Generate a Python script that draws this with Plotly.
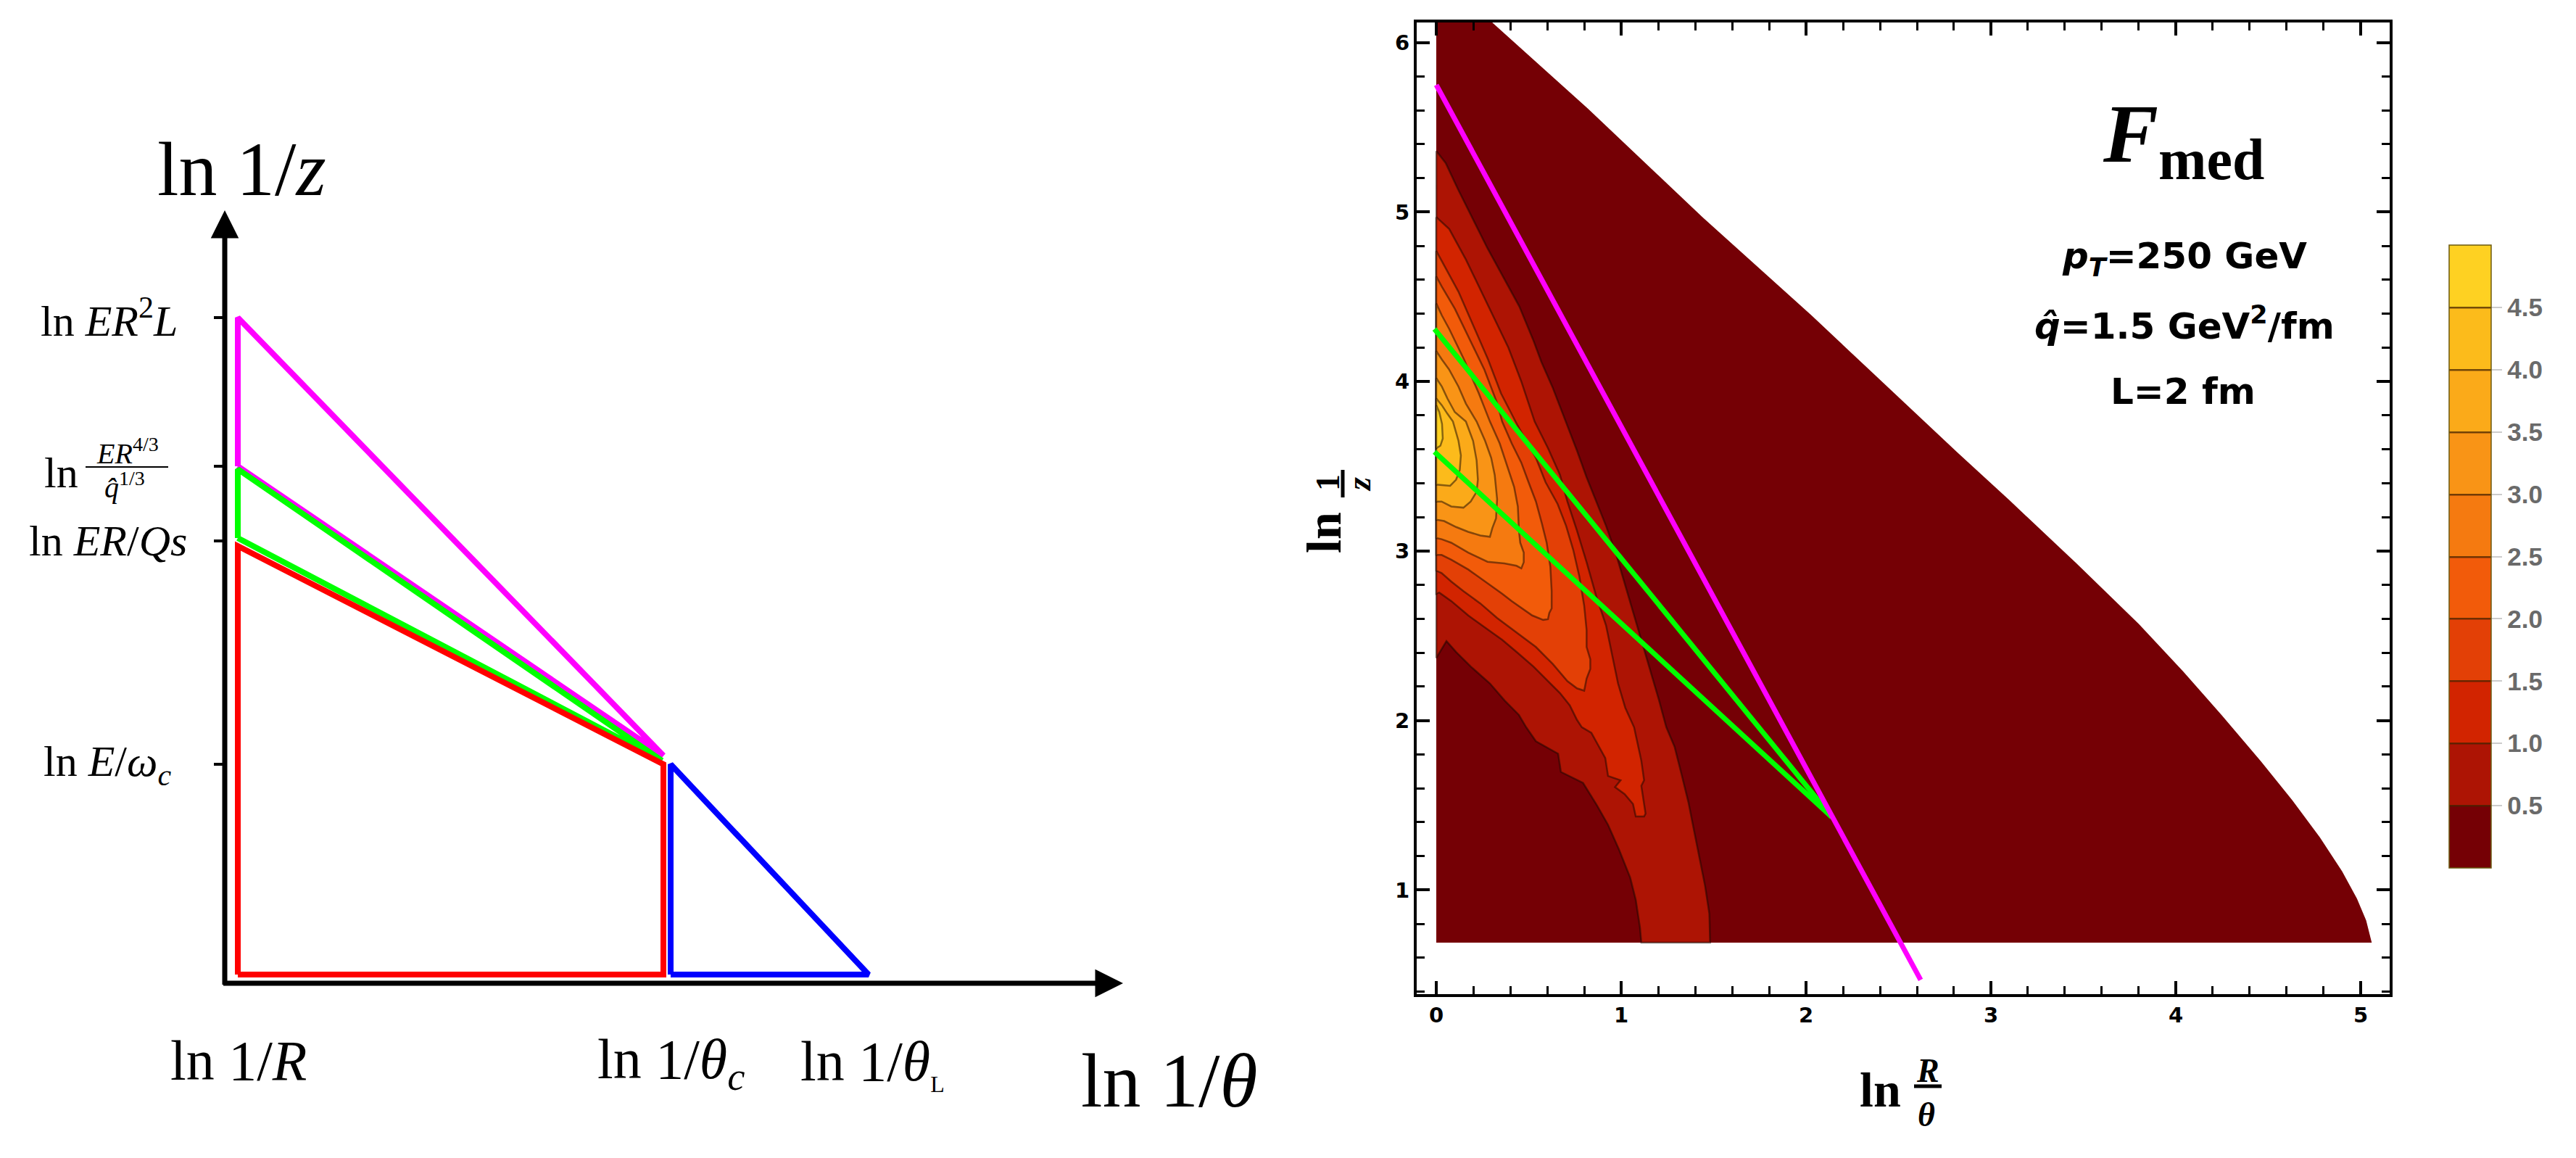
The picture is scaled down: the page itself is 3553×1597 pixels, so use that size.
import plotly.graph_objects as go

W, H = 3553, 1597

# ================= LEFT PANEL: schematic Lund plane =================
# schematic units: ln1/R at x = 0, bottom of the phase space at y = 0
tick_y = [2.90, 5.98, 7.01, 9.06]  # ln E/wc, ln ER/Qs, ln ER^{4/3}/q^{1/3}, ln ER^2 L
magenta_x = [0.0, 0.0, 5.87, 0.0]
magenta_y = [7.01, 9.06, 3.02, 7.01]
green_x = [0.0, 0.0, 5.85, 0.0]
green_y = [6.02, 6.97, 2.95, 6.02]
red_x = [0.0, 0.0, 5.87, 5.87, 0.0]
red_y = [0.0, 5.91, 2.90, 0.0, 0.0]
blue_x = [5.97, 5.97, 8.70, 5.97]
blue_y = [0.0, 2.90, 0.0, 0.0]
origin = (-0.18, -0.12)
x_tip = 12.21
y_tip = 10.54

# ================= RIGHT PANEL: F_med contour =================
cbar_levels = [0.5, 1.0, 1.5, 2.0, 2.5, 3.0, 3.5, 4.0, 4.5]
band_colors = ["#750005", "#AD1404", "#D22400", "#E34006", "#F25B0A",
               "#F57A10", "#F99416", "#FBAA19", "#FCBB1B", "#FED122"]

region_dom = [(0, 0.69), (0, 6.16), (0.26, 6.16), (0.82, 5.61), (1.44, 4.97), (2.03, 4.39),
              (2.82, 3.58), (3.10, 3.30), (3.46, 2.93), (3.80, 2.57), (4.04, 2.29),
              (4.25, 2.03), (4.46, 1.76), (4.63, 1.53), (4.78, 1.31), (4.90, 1.11),
              (4.98, 0.95), (5.03, 0.82), (5.06, 0.69)]
region_05 = [(0, 5.36), (0.051, 5.289), (0.118, 5.133), (0.201, 4.952), (0.276, 4.788),
             (0.359, 4.623), (0.449, 4.443), (0.524, 4.246), (0.569, 4.114), (0.629, 3.966),
             (0.702, 3.764), (0.761, 3.592), (0.813, 3.435), (0.865, 3.292), (0.918, 3.149),
             (0.970, 2.991), (1.009, 2.848), (1.048, 2.705), (1.088, 2.548), (1.127, 2.405),
             (1.166, 2.262), (1.205, 2.119), (1.244, 1.961), (1.289, 1.845), (1.327, 1.681),
             (1.364, 1.517), (1.394, 1.352), (1.424, 1.188), (1.454, 1.024), (1.477, 0.859),
             (1.481, 0.69), (1.109, 0.69), (1.102, 0.777), (1.079, 0.942), (1.049, 1.073),
             (0.989, 1.237), (0.929, 1.385), (0.869, 1.500), (0.794, 1.632), (0.674, 1.697),
             (0.659, 1.804), (0.539, 1.878), (0.486, 1.961), (0.447, 2.033), (0.369, 2.119),
             (0.290, 2.219), (0.186, 2.319), (0.107, 2.405), (0.055, 2.469), (0, 2.369)]
region_10 = [(0, 4.97), (0.07, 4.90), (0.16, 4.72), (0.23, 4.56), (0.31, 4.38), (0.39, 4.20),
             (0.46, 4.00), (0.532, 3.764), (0.604, 3.607), (0.669, 3.449), (0.709, 3.292),
             (0.761, 3.120), (0.813, 2.934), (0.865, 2.734), (0.918, 2.562), (0.950, 2.391),
             (0.983, 2.219), (1.022, 2.076), (1.07, 1.96), (1.109, 1.763), (1.124, 1.648),
             (1.109, 1.615), (1.132, 1.451), (1.124, 1.434), (1.079, 1.434), (1.064, 1.508),
             (1.019, 1.566), (0.967, 1.607), (0.997, 1.648), (0.929, 1.673), (0.914, 1.779),
             (0.839, 1.927), (0.787, 1.961), (0.761, 2.004), (0.722, 2.090), (0.669, 2.162),
             (0.591, 2.248), (0.525, 2.319), (0.434, 2.405), (0.356, 2.477), (0.264, 2.548),
             (0.173, 2.620), (0.081, 2.705), (0.016, 2.755), (0, 2.748)]
region_15 = [(0, 4.77), (0.04, 4.69), (0.12, 4.53), (0.20, 4.33), (0.28, 4.13), (0.35, 3.93),
             (0.44, 3.74), (0.539, 3.549), (0.591, 3.406), (0.656, 3.278), (0.702, 3.149),
             (0.741, 3.006), (0.774, 2.849), (0.800, 2.677), (0.813, 2.534), (0.813, 2.434),
             (0.833, 2.362), (0.833, 2.305), (0.813, 2.248), (0.800, 2.176), (0.761, 2.190),
             (0.709, 2.233), (0.630, 2.334), (0.539, 2.434), (0.434, 2.520), (0.329, 2.605),
             (0.238, 2.691), (0.147, 2.763), (0.081, 2.820), (0.029, 2.870), (0, 2.884)]
region_20 = [(0, 4.62), (0.03, 4.56), (0.10, 4.43), (0.18, 4.25), (0.26, 4.07), (0.33, 3.87),
             (0.356, 3.764), (0.408, 3.635), (0.460, 3.521), (0.499, 3.406), (0.539, 3.292),
             (0.571, 3.163), (0.597, 3.049), (0.617, 2.906), (0.624, 2.763), (0.624, 2.662),
             (0.611, 2.634), (0.604, 2.598), (0.578, 2.594), (0.519, 2.620), (0.473, 2.655),
             (0.408, 2.705), (0.356, 2.748), (0.264, 2.820), (0.173, 2.891), (0.081, 2.949),
             (0.029, 2.977), (0, 2.977)]
region_25 = [(0, 4.46), (0.03, 4.39), (0.07, 4.31), (0.15, 4.13), (0.23, 3.93), (0.29, 3.764),
             (0.343, 3.635), (0.382, 3.506), (0.421, 3.378), (0.441, 3.263), (0.447, 3.120),
             (0.454, 3.049), (0.473, 2.991), (0.473, 2.934), (0.460, 2.898), (0.434, 2.913),
             (0.369, 2.927), (0.277, 2.937), (0.173, 2.991), (0.081, 3.049), (0.029, 3.070),
             (0, 3.077)]
region_30 = [(0, 4.18), (0.03, 4.13), (0.07, 4.07), (0.12, 3.97), (0.16, 3.87), (0.218, 3.764),
             (0.264, 3.650), (0.297, 3.549), (0.316, 3.449), (0.329, 3.306), (0.323, 3.192),
             (0.303, 3.135), (0.290, 3.084), (0.238, 3.092), (0.173, 3.113), (0.107, 3.142),
             (0.042, 3.177), (0, 3.185)]
region_35 = [(0, 4.02), (0.03, 3.97), (0.06, 3.90), (0.10, 3.82), (0.160, 3.764), (0.199, 3.650),
             (0.218, 3.535), (0.225, 3.421), (0.218, 3.349), (0.186, 3.292), (0.147, 3.256),
             (0.081, 3.263), (0.029, 3.292), (0, 3.292)]
region_40 = [(0, 3.90), (0.03, 3.86), (0.06, 3.81), (0.09, 3.764), (0.120, 3.650), (0.133, 3.564),
             (0.127, 3.478), (0.107, 3.421), (0.075, 3.385), (0.029, 3.389), (0, 3.392)]
region_45 = [(0, 3.86), (0.016, 3.82), (0.031, 3.75), (0.035, 3.664), (0.022, 3.621), (0, 3.607)]

magenta_r_x = [0.0, 2.62]
magenta_r_y = [5.75, 0.47]
green_up_x = [-0.01, 2.14]
green_up_y = [4.31, 1.43]
green_lo_x = [-0.01, 2.14]
green_lo_y = [3.585, 1.43]

x2_range = [-0.106, 5.157]
y2_range = [0.386, 6.12]


def PX(x):
    return x / W


def PY(y):
    return 1 - y / H


fig = go.Figure()

# ---------- left panel traces ----------
for xs, ys, col in [(magenta_x, magenta_y, "#FF00FF"), (green_x, green_y, "#00FF00"),
                    (red_x, red_y, "#FF0000"), (blue_x, blue_y, "#0000FF")]:
    fig.add_trace(go.Scatter(x=xs, y=ys, mode="lines", line=dict(color=col, width=8),
                             xaxis="x", yaxis="y", hoverinfo="skip"))

# ---------- right panel filled contour regions ----------
regions = [region_dom, region_05, region_10, region_15, region_20, region_25,
           region_30, region_35, region_40, region_45]
for i, (pts, col) in enumerate(zip(regions, band_colors)):
    xs = [p[0] for p in pts] + [pts[0][0]]
    ys = [p[1] for p in pts] + [pts[0][1]]
    fig.add_trace(go.Scatter(
        x=xs, y=ys, mode="lines", fill="toself", fillcolor=col,
        line=dict(color="rgba(0,0,0,0)" if i == 0 else "rgba(20,5,0,0.5)",
                  width=0 if i == 0 else 2.5),
        xaxis="x2", yaxis="y2", hoverinfo="skip"))

# dummy contour for the colour bar only (placed outside visible range)
cs_stops = [[k / 9, c] for k, c in enumerate(band_colors)]
fig.add_trace(go.Contour(
    x=[-9, -8], y=[-9, -8], z=[[0, 5], [5, 0]], xaxis="x2", yaxis="y2",
    zmin=0, zmax=5, zauto=False, colorscale=cs_stops,
    contours=dict(start=0.5, end=4.5, size=0.5, coloring="fill", showlines=True),
    line=dict(color="rgba(70,35,0,0.75)", width=2.5), hoverinfo="skip",
    colorbar=dict(x=PX(3378), xanchor="left", xpad=0, ypad=0, thickness=58,
                  len=859 / H, lenmode="fraction", y=PY((338 + 1197) / 2), yanchor="middle",
                  tickvals=cbar_levels, ticktext=[f"{v:.1f}" for v in cbar_levels],
                  ticks="outside", ticklen=15, tickwidth=1.5, tickcolor="#cccccc",
                  tickfont=dict(family="Liberation Sans", size=35, color="#6a6a6a", weight="bold"),
                  outlinewidth=1.5, outlinecolor="#6b5a10")))

# lines in right panel
for xs, ys, col in [(green_up_x, green_up_y, "#00FF00"), (green_lo_x, green_lo_y, "#00FF00"),
                    (magenta_r_x, magenta_r_y, "#FF00FF")]:
    fig.add_trace(go.Scatter(x=xs, y=ys, mode="lines", line=dict(color=col, width=7),
                             xaxis="x2", yaxis="y2", hoverinfo="skip"))

tickfont_r = dict(family="DejaVu Sans", size=29, color="black", weight="bold")
axis_r = dict(showgrid=False, zeroline=False, showline=True, linewidth=4, linecolor="black",
              mirror="allticks", ticks="inside", ticklen=18, tickwidth=3.5, tickcolor="black",
              dtick=1, tick0=0, tickfont=tickfont_r,
              minor=dict(ticks="inside", dtick=0.2, tick0=0, ticklen=11, tickwidth=3,
                         tickcolor="black"))

fig.update_layout(
    width=W, height=H, margin=dict(l=0, r=0, t=0, b=0, pad=0),
    paper_bgcolor="white", plot_bgcolor="rgba(0,0,0,0)", showlegend=False,
    xaxis=dict(domain=[PX(310), PX(1549)], range=[origin[0], x_tip], visible=False),
    yaxis=dict(domain=[PY(1356), PY(290)], range=[origin[1], y_tip], anchor="x",
               showgrid=False, zeroline=False, showline=False, ticks="outside",
               ticklen=14, tickwidth=4, tickcolor="black", tickvals=tick_y,
               showticklabels=False),
    xaxis2=dict(domain=[PX(1954), PX(3296)], range=x2_range, anchor="y2", **axis_r),
    yaxis2=dict(domain=[PY(1371), PY(30.6)], range=y2_range, anchor="x2", **axis_r),
)

serif = "Liberation Serif"
ann = []
# axis arrows (left panel)
ann.append(dict(x=x_tip, y=origin[1], ax=origin[0] - 0.035, ay=origin[1], xref="x", yref="y",
                axref="x", ayref="y", showarrow=True, arrowhead=2, arrowsize=1.1,
                arrowwidth=7, arrowcolor="black", text=""))
ann.append(dict(x=origin[0], y=y_tip, ax=origin[0], ay=origin[1] - 0.035, xref="x", yref="y",
                axref="x", ayref="y", showarrow=True, arrowhead=2, arrowsize=1.1,
                arrowwidth=7, arrowcolor="black", text=""))


def txt(x, y, s, size, family=serif, xref="paper", yref="paper", angle=0, weight="normal",
        xanchor="center", color="black"):
    ann.append(dict(x=x, y=y, xref=xref, yref=yref, text=s, showarrow=False,
                    xanchor=xanchor, yanchor="middle", textangle=angle,
                    font=dict(family=family, size=size, color=color, weight=weight)))


# left panel titles
txt(PX(333), PY(234), "ln 1/<i>z</i>", 106)
txt(PX(1612), PY(1490), "ln 1/<i>θ</i>", 106)
txt(PX(329), PY(1462), "ln 1/<i>R</i>", 78)
txt(PX(925), PY(1466), "ln 1/<i>θ</i><sub><i>c</i></sub>", 78)
txt(PX(1203), PY(1466), "ln 1/<i>θ</i><sub><span style='font-size:32px'>L</span></sub>", 78)
# left y tick labels
txt(PX(150), tick_y[3], "ln <i>ER</i><sup>2</sup><i>L</i>", 60, yref="y")
txt(PX(149), tick_y[1], "ln <i>ER</i>/<i>Qs</i>", 60, yref="y")
txt(PX(148), tick_y[0], "ln <i>E</i>/<i>ω</i><sub><i>c</i></sub>", 60, yref="y")
txt(PX(84), PY(652), "ln", 60)
txt(PX(176), PY(622), "<i>ER</i><sup>4/3</sup>", 40)
txt(PX(172), PY(670), "<i>q̂</i><sup>1/3</sup>", 40)

# right panel texts
txt(PX(3011), PY(192), "<i>F</i><sub>med</sub>", 114, weight="bold")
txt(PX(3013), PY(356), "<i>p</i><sub><i>T</i></sub>=250 GeV", 50, family="DejaVu Sans", weight="bold")
txt(PX(3013), PY(446), "<i>q̂</i>=1.5 GeV<sup>2</sup>/fm", 50, family="DejaVu Sans", weight="bold")
txt(PX(3011), PY(540), "L=2 fm", 50, family="DejaVu Sans", weight="bold")
# right axis titles
txt(PX(2593), PY(1503), "ln", 68, weight="bold")
txt(PX(2659), PY(1476), "<i>R</i>", 46, weight="bold")
txt(PX(2657), PY(1537), "<i>θ</i>", 46, weight="bold")
txt(PX(1826), PY(735), "ln", 68, weight="bold", angle=-90)
txt(PX(1831), PY(666), "1", 46, weight="bold", angle=-90)
txt(PX(1874), PY(668), "<i>z</i>", 46, weight="bold", angle=-90)

shapes = [
    dict(type="line", xref="paper", yref="paper", x0=PX(118), x1=PX(232), y0=PY(644), y1=PY(644),
         line=dict(color="black", width=2)),
    dict(type="line", xref="paper", yref="paper", x0=PX(2640), x1=PX(2678), y0=PY(1498), y1=PY(1498),
         line=dict(color="black", width=5)),
    dict(type="line", xref="paper", yref="paper", x0=PX(1852), x1=PX(1852), y0=PY(648), y1=PY(686),
         line=dict(color="black", width=5)),
]
fig.update_layout(annotations=ann, shapes=shapes)

fig.write_html("out.html", config={"displayModeBar": False},
               post_script="document.body.style.margin='0';")
